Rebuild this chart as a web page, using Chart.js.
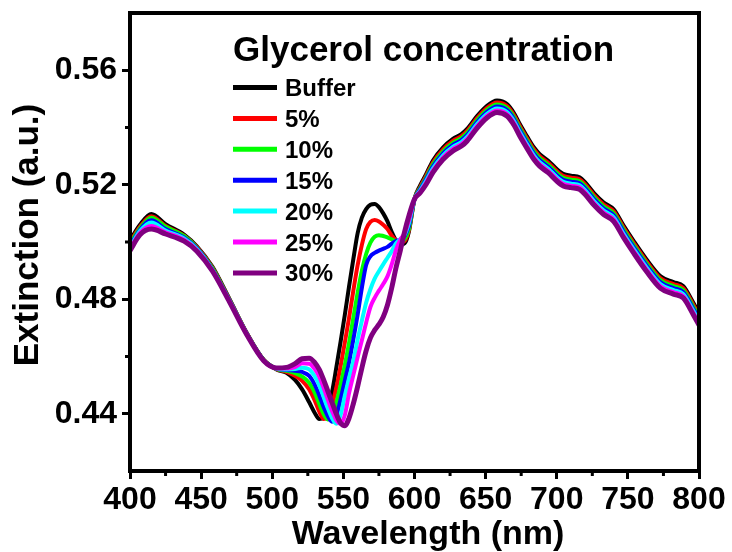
<!DOCTYPE html>
<html><head><meta charset="utf-8">
<script src="https://cdn.jsdelivr.net/npm/chart.js@4.4.0/dist/chart.umd.min.js"></script>
<style>html,body{margin:0;padding:0;background:#fff;}#wrap{width:732px;height:552px;}</style>
</head><body><div id="wrap"><canvas id="c" width="732" height="552"></canvas></div>
<script>
const wavelength = [400,407,415,425,438,447,458,470,482,494,503,510,516,521,526,530,533,536,539,542,545,548,551,554,557,560,563,566,569,572,575,578,581,584,587,590,593,596,600,604,608,613,620,627,633,637,644,651,658,665,670,674,679,684,688,694,700,705,710,716,720,726,733,740,747,754,763,773,782,789,796,800];

const buffer = [0.5005,0.5060,0.5098,0.5062,0.5026,0.4985,0.4913,0.4800,0.4683,0.4588,
0.4555,0.4543,0.4518,0.4485,0.4440,0.4402,0.4382,0.4385,0.4420,0.4475,
0.4560,0.4650,0.4745,0.4845,0.4940,0.5030,0.5085,0.5115,0.5130,0.5133,
0.5122,0.5100,0.5072,0.5035,0.5005,0.4990,0.4995,0.5035,0.5150,0.5198,
0.5235,0.5285,0.5330,0.5360,0.5377,0.5395,0.5440,0.5476,0.5494,0.5482,
0.5450,0.5412,0.5370,0.5330,0.5307,0.5284,0.5255,0.5237,0.5232,0.5226,
0.5208,0.5172,0.5138,0.5114,0.5057,0.5004,0.4940,0.4880,0.4860,0.4846,
0.4788,0.4752];

const g5 = [0.4998,0.5053,0.5090,0.5056,0.5022,0.4982,0.4910,0.4798,0.4682,0.4588,
0.4556,0.4546,0.4533,0.4515,0.4485,0.4445,0.4408,0.4382,0.4385,0.4430,
0.4490,0.4565,0.4648,0.4735,0.4830,0.4918,0.4990,0.5045,0.5070,0.5077,
0.5072,0.5060,0.5045,0.5022,0.5006,0.4998,0.5003,0.5040,0.5150,0.5192,
0.5229,0.5278,0.5323,0.5353,0.5370,0.5388,0.5433,0.5469,0.5487,0.5475,
0.5443,0.5405,0.5363,0.5323,0.5300,0.5277,0.5248,0.5230,0.5225,0.5219,
0.5201,0.5165,0.5131,0.5107,0.5050,0.4997,0.4933,0.4873,0.4853,0.4839,
0.4781,0.4745];

const g10 = [0.4993,0.5048,0.5085,0.5053,0.5021,0.4980,0.4908,0.4797,0.4681,0.4588,
0.4557,0.4550,0.4542,0.4530,0.4508,0.4472,0.4435,0.4400,0.4380,0.4392,
0.4438,0.4500,0.4570,0.4648,0.4735,0.4822,0.4900,0.4958,0.4998,0.5018,
0.5024,0.5021,0.5016,0.5009,0.5003,0.5000,0.5010,0.5045,0.5150,0.5188,
0.5223,0.5271,0.5316,0.5346,0.5363,0.5381,0.5426,0.5462,0.5480,0.5468,
0.5436,0.5398,0.5356,0.5316,0.5293,0.5270,0.5241,0.5223,0.5218,0.5212,
0.5194,0.5158,0.5124,0.5100,0.5043,0.4990,0.4926,0.4866,0.4846,0.4832,
0.4774,0.4738];

const g15 = [0.4985,0.5043,0.5076,0.5045,0.5016,0.4978,0.4904,0.4795,0.4680,0.4587,
0.4558,0.4553,0.4550,0.4546,0.4532,0.4500,0.4465,0.4425,0.4392,0.4372,
0.4392,0.4450,0.4515,0.4580,0.4660,0.4745,0.4840,0.4920,0.4950,0.4962,
0.4970,0.4976,0.4983,0.4994,0.5003,0.5008,0.5020,0.5055,0.5150,0.5184,
0.5218,0.5264,0.5309,0.5339,0.5356,0.5374,0.5419,0.5455,0.5473,0.5461,
0.5429,0.5391,0.5349,0.5309,0.5286,0.5263,0.5234,0.5216,0.5211,0.5205,
0.5187,0.5151,0.5117,0.5093,0.5036,0.4983,0.4919,0.4859,0.4839,0.4825,
0.4767,0.4731];

const g20 = [0.4980,0.5038,0.5068,0.5040,0.5012,0.4975,0.4902,0.4793,0.4679,0.4586,
0.4558,0.4555,0.4556,0.4561,0.4555,0.4530,0.4500,0.4460,0.4420,0.4385,
0.4365,0.4395,0.4462,0.4525,0.4584,0.4658,0.4725,0.4788,0.4835,0.4872,
0.4898,0.4922,0.4945,0.4968,0.4995,0.5010,0.5025,0.5065,0.5150,0.5180,
0.5212,0.5257,0.5302,0.5332,0.5349,0.5367,0.5412,0.5448,0.5466,0.5454,
0.5422,0.5384,0.5342,0.5302,0.5279,0.5256,0.5227,0.5209,0.5204,0.5198,
0.5180,0.5144,0.5110,0.5086,0.5029,0.4976,0.4912,0.4852,0.4832,0.4818,
0.4760,0.4724];

const g25 = [0.4975,0.5032,0.5056,0.5034,0.5008,0.4972,0.4900,0.4792,0.4678,0.4585,
0.4559,0.4558,0.4563,0.4576,0.4575,0.4555,0.4530,0.4492,0.4450,0.4410,
0.4378,0.4365,0.4395,0.4472,0.4535,0.4597,0.4657,0.4718,0.4773,0.4805,
0.4830,0.4853,0.4880,0.4922,0.4972,0.5008,0.5030,0.5075,0.5150,0.5176,
0.5206,0.5250,0.5295,0.5325,0.5342,0.5360,0.5405,0.5441,0.5459,0.5447,
0.5415,0.5377,0.5335,0.5295,0.5272,0.5249,0.5220,0.5202,0.5197,0.5191,
0.5173,0.5137,0.5103,0.5079,0.5022,0.4969,0.4905,0.4845,0.4825,0.4811,
0.4753,0.4717];

const g30 = [0.4970,0.5025,0.5045,0.5028,0.5003,0.4968,0.4898,0.4790,0.4677,0.4585,
0.4560,0.4562,0.4575,0.4592,0.4594,0.4578,0.4555,0.4520,0.4480,0.4440,
0.4400,0.4368,0.4358,0.4385,0.4435,0.4495,0.4560,0.4620,0.4665,0.4692,
0.4712,0.4738,0.4780,0.4840,0.4910,0.4970,0.5035,0.5090,0.5150,0.5172,
0.5200,0.5243,0.5288,0.5318,0.5335,0.5353,0.5398,0.5434,0.5452,0.5440,
0.5408,0.5370,0.5328,0.5288,0.5265,0.5242,0.5213,0.5195,0.5190,0.5184,
0.5166,0.5130,0.5096,0.5072,0.5015,0.4962,0.4898,0.4838,0.4818,0.4804,
0.4746,0.4710];

const seriesLabels = ['Buffer','5%','10%','15%','20%','25%','30%'];
const seriesValues = [buffer,g5,g10,g15,g20,g25,g30];
const seriesColors = ['#000000','#ff0000','#00ff00','#0000ff','#00ffff','#ff00ff','#800080'];
const seriesWidths = [4,4,4,4,4,4,5];
const xTicks = [400,450,500,550,600,650,700,750,800];
const xMinor = [425,475,525,575,625,675,725,775];
const yTicks = [0.44,0.48,0.52,0.56];
const yMinor = [0.46,0.50,0.54];
const legendTitle = 'Glycerol concentration';
const xTitle = 'Wavelength (nm)';
const yTitle = 'Extinction (a.u.)';

const FONT = "'Liberation Sans', Arial, sans-serif";

const datasets = seriesValues.map((vals,i)=>({
  label: seriesLabels[i],
  data: wavelength.map((w,k)=>({x:w,y:vals[k]})),
  borderColor: seriesColors[i],
  backgroundColor: seriesColors[i],
  borderWidth: seriesWidths[i],
  pointRadius: 0,
  fill: false,
  cubicInterpolationMode: 'monotone',
  order: seriesValues.length - i
}));

const decor = {
  id: 'decor',
  afterDatasetsDraw(chart){
    const ctx = chart.ctx, a = chart.chartArea;
    const xs = chart.scales.x, ys = chart.scales.y;
    ctx.save();
    ctx.strokeStyle = '#000';
    ctx.lineWidth = 4;
    ctx.strokeRect(a.left, a.top, a.right - a.left, a.bottom - a.top);
    ctx.lineWidth = 3;
    ctx.beginPath();
    xMinor.forEach(v=>{const p = xs.getPixelForValue(v); ctx.moveTo(p, a.bottom); ctx.lineTo(p, a.bottom + 5);});
    yMinor.forEach(v=>{const p = ys.getPixelForValue(v); ctx.moveTo(a.left, p); ctx.lineTo(a.left - 5, p);});
    ctx.stroke();
    ctx.restore();
  },
  afterDraw(chart){
    const ctx = chart.ctx;
    ctx.save();
    ctx.fillStyle = '#000';
    ctx.textBaseline = 'alphabetic';
    ctx.font = 'bold 35px ' + FONT;
    ctx.textAlign = 'left';
    ctx.fillText(legendTitle, 233, 61);
    ctx.font = 'bold 24px ' + FONT;
    seriesLabels.forEach((lab,i)=>{
      const y = 87.5 + i*30.9;
      ctx.strokeStyle = seriesColors[i];
      ctx.lineWidth = 5;
      ctx.beginPath(); ctx.moveTo(233, y); ctx.lineTo(277, y); ctx.stroke();
      ctx.fillText(lab, 285, y + 8.5);
    });
    ctx.font = 'bold 34px ' + FONT;
    ctx.textAlign = 'center';
    ctx.fillText(xTitle, 428, 544);
    ctx.translate(38, 235);
    ctx.rotate(-Math.PI/2);
    ctx.font = 'bold 35px ' + FONT;
    ctx.fillText(yTitle, 0, 0);
    ctx.restore();
  }
};

new Chart(document.getElementById('c'), {
  type: 'line',
  data: { datasets },
  options: {
    responsive: false,
    devicePixelRatio: 1,
    animation: false,
    events: [],
    layout: { padding: { top: 13, right: 33, left: 0, bottom: 0 } },
    plugins: { legend: { display: false }, title: { display: false }, tooltip: { enabled: false } },
    scales: {
      x: {
        type: 'linear', min: 400, max: 800,
        afterBuildTicks: s => { s.ticks = xTicks.map(v => ({ value: v })); },
        afterFit: s => { s.height = 81; s.paddingLeft = 0; s.paddingRight = 0; },
        ticks: { font: { family: FONT, size: 32, weight: 'bold' }, color: '#000', padding: 2, maxRotation: 0, autoSkip: false },
        grid: { drawOnChartArea: false, drawTicks: true, tickLength: 8, tickWidth: 3, tickColor: '#000' },
        border: { display: false }
      },
      y: {
        type: 'linear', min: 0.42, max: 0.58,
        afterBuildTicks: s => { s.ticks = yTicks.map(v => ({ value: v })); },
        afterFit: s => { s.width = 130; s.paddingTop = 0; s.paddingBottom = 0; },
        ticks: { font: { family: FONT, size: 32, weight: 'bold' }, color: '#000', padding: 5, autoSkip: false, callback: v => Number(v).toFixed(2) },
        grid: { drawOnChartArea: false, drawTicks: true, tickLength: 8, tickWidth: 3, tickColor: '#000' },
        border: { display: false }
      }
    }
  },
  plugins: [decor]
});
</script>
</body></html>
